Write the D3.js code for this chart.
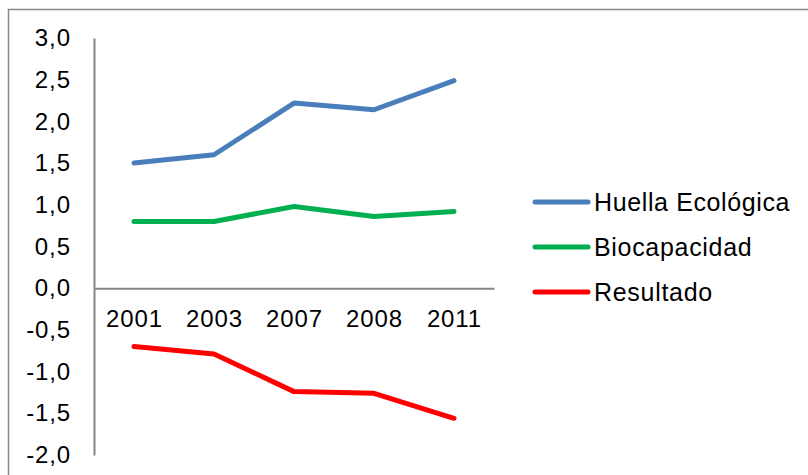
<!DOCTYPE html>
<html>
<head>
<meta charset="utf-8">
<script src="https://cdn.jsdelivr.net/npm/d3@7"></script>
<style>
  body { margin: 0; background: #fff; }
  svg text { font-family: "Liberation Sans", Arial, sans-serif; fill: #000; }
</style>
</head>
<body>
<svg id="chart"></svg>
<script>
const years = ["2001", "2003", "2007", "2008", "2011"];
const huella = [1.5, 1.6, 2.22, 2.14, 2.49];
const biocapacidad = [0.8, 0.8, 0.98, 0.86, 0.92];
const resultado = [-0.7, -0.79, -1.24, -1.26, -1.56];
const yTicks = [3, 2.5, 2, 1.5, 1, 0.5, 0, -0.5, -1, -1.5, -2];

const series = [
    { name: "Huella Ecológica", values: huella, color: "#4A7EBB" },
    { name: "Biocapacidad", values: biocapacidad, color: "#00B050" },
    { name: "Resultado", values: resultado, color: "#FF0000" }
];

const WIDTH = 808;
const HEIGHT = 475;
const PLOT_LEFT = 94;
const PLOT_RIGHT = 494;
const PLOT_TOP = 38;
const PLOT_BOTTOM = 455;
const FONT = '"Liberation Sans", Arial, sans-serif';

const svg = d3.select('#chart')
    .attr('width', WIDTH)
    .attr('height', HEIGHT);

// outer frame (only left and top edges are visible in the crop)
svg.append('path')
    .attr('d', `M8.5,${HEIGHT} V9.5 H${WIDTH}`)
    .attr('fill', 'none')
    .attr('stroke', '#888')
    .attr('stroke-width', 1.5);

const x = d3.scaleBand()
    .domain(years)
    .range([PLOT_LEFT, PLOT_RIGHT]);

const y = d3.scaleLinear()
    .domain([-2, 3])
    .range([PLOT_BOTTOM, PLOT_TOP]);

// y axis
const yAxis = svg.append('g')
    .attr('transform', `translate(${PLOT_LEFT},0)`)
    .call(d3.axisLeft(y).tickValues(yTicks).tickSize(0).tickPadding(24)
        .tickFormat(d => d3.format('.1f')(d).replace('.', ',').replace('−', '-')));
yAxis.select('.domain').attr('stroke', '#868686').attr('stroke-width', 2);
yAxis.selectAll('text').attr('font-size', 24).attr('font-family', FONT)
    .attr('textLength', function () { return this.getComputedTextLength() * 1.06; });

// x axis at zero
const xAxis = svg.append('g')
    .attr('transform', `translate(0,${y(0)})`)
    .call(d3.axisBottom(x).tickSize(0).tickPadding(22));
xAxis.select('.domain').attr('stroke', '#868686').attr('stroke-width', 2);
xAxis.selectAll('text').attr('font-size', 24).attr('font-family', FONT)
    .attr('textLength', function () { return this.getComputedTextLength() * 1.05; });

const line = d3.line()
    .x((d, i) => x(years[i]) + x.bandwidth() / 2)
    .y(d => y(d));

svg.selectAll('.series')
    .data(series)
    .join('path')
    .attr('class', 'series')
    .attr('d', d => line(d.values))
    .attr('fill', 'none')
    .attr('stroke', d => d.color)
    .attr('stroke-width', 5)
    .attr('stroke-linecap', 'round')
    .attr('stroke-linejoin', 'round');

// legend
const LEGEND_X = 535;
const LEGEND_Y = 202;
const LEGEND_STEP = 45;

const legend = svg.selectAll('.legend')
    .data(series)
    .join('g')
    .attr('class', 'legend')
    .attr('transform', (d, i) => `translate(${LEGEND_X},${LEGEND_Y + LEGEND_STEP * i})`);

legend.append('line')
    .attr('x1', 0)
    .attr('x2', 53)
    .attr('stroke', d => d.color)
    .attr('stroke-width', 5)
    .attr('stroke-linecap', 'round');

legend.append('text')
    .attr('x', 59)
    .attr('dy', '0.35em')
    .attr('font-size', 25)
    .attr('font-family', FONT)
    .text(d => d.name)
    .attr('textLength', function () { return this.getComputedTextLength() * 1.05; });
</script>
</body>
</html>
